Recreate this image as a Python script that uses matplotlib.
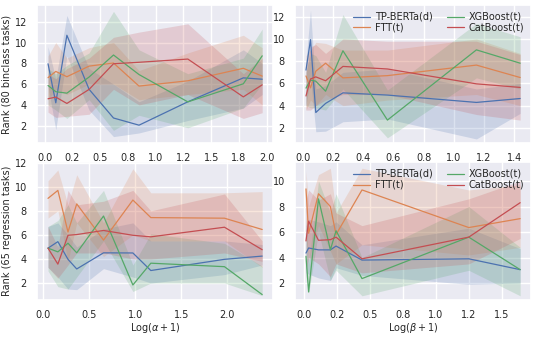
import matplotlib
matplotlib.use("Agg")
import matplotlib.pyplot as plt
import seaborn as sns
from matplotlib.ticker import MultipleLocator, FormatStrFormatter

sns.set_theme(style="darkgrid")
plt.rcParams['font.family'] = ['DejaVu Sans']

models = ["TP-BERTa(d)", "FTT(t)", "XGBoost(t)", "CatBoost(t)"]
colors = sns.color_palette("deep")[:4]

# binclass, alpha
x_bin_a = [0.03, 0.10, 0.20, 0.40, 0.62, 0.85, 1.29, 1.79, 1.96]
bin_a_mean = [
    [7.96, 4.2, 10.7, 5.5, 2.74, 2.05, 4.3, 6.6, 6.47],
    [6.62, 7.22, 6.71, 7.73, 8.03, 5.81, 6.32, 7.52, 6.77],
    [5.87, 5.27, 5.13, 6.68, 8.8, 6.92, 4.29, 6.03, 8.72],
    [4.59, 4.75, 4.14, 5.49, 7.96, 8.1, 8.41, 4.77, 5.93],
]
bin_a_low = [
    [5.8, 1.6, 8.7, 3.5, 0.95, 1.3, 2.5, 3.7, 5.0],
    [4.5, 5.5, 5.0, 6.0, 6.0, 4.5, 5.0, 5.5, 4.0],
    [4.0, 3.5, 2.7, 4.5, 1.55, 3.0, 1.8, 3.7, 6.0],
    [3.3, 2.8, 2.9, 3.1, 5.5, 4.0, 5.0, 2.7, 3.25],
]
bin_a_high = [
    [9.6, 6.5, 12.6, 7.5, 6.0, 4.3, 6.3, 9.3, 8.0],
    [8.7, 10.0, 8.5, 9.5, 10.0, 7.3, 9.0, 10.7, 9.5],
    [7.5, 7.0, 7.8, 9.0, 13.0, 9.3, 7.0, 8.5, 11.3],
    [7.0, 6.5, 7.5, 8.5, 10.5, 11.0, 11.8, 7.0, 8.5],
]

# binclass, beta
x_bin_b = [0.02, 0.05, 0.085, 0.15, 0.265, 0.56, 1.15, 1.44]
bin_b_mean = [
    [7.2, 9.94, 3.38, 4.2, 5.15, 4.95, 4.29, 4.64],
    [6.67, 5.6, 7.1, 7.82, 6.5, 6.7, 7.65, 6.53],
    [5.58, 6.3, 6.2, 5.3, 8.94, 2.7, 9.02, 7.82],
    [4.87, 6.4, 6.59, 6.24, 7.53, 7.3, 5.96, 5.64],
]
bin_b_low = [
    [4.0, 6.5, 1.65, 1.7, 2.55, 2.8, 1.0, 3.3],
    [3.6, 4.5, 4.0, 5.0, 4.0, 4.5, 5.0, 4.0],
    [4.0, 3.8, 3.8, 3.6, 5.5, 1.1, 6.5, 5.5],
    [3.6, 3.6, 4.0, 4.5, 5.0, 5.0, 3.2, 2.7],
]
bin_b_high = [
    [8.0, 12.6, 5.5, 5.8, 7.0, 7.3, 5.5, 6.0],
    [8.5, 9.0, 9.7, 9.6, 9.0, 9.0, 10.0, 8.7],
    [7.0, 8.7, 8.5, 7.0, 12.2, 5.4, 11.4, 10.2],
    [7.0, 9.3, 9.5, 8.7, 10.0, 9.8, 9.8, 8.6],
]

# regression, alpha
x_reg_a = [0.053, 0.16, 0.27, 0.365, 0.656, 0.975, 1.17, 1.97, 2.38]
reg_a_mean = [
    [4.9, 5.44, 3.97, 3.17, 4.51, 4.5, 3.04, 3.97, 4.24],
    [9.04, 9.7, 6.24, 8.58, 5.57, 8.9, 7.44, 7.39, 6.45],
    [4.9, 4.59, 5.31, 4.51, 7.57, 1.84, 3.65, 3.36, 1.04],
    [4.9, 3.57, 5.97, 6.03, 6.37, 5.97, 5.84, 6.64, 4.77],
]
reg_a_low = [
    [3.3, 2.5, 1.5, 1.45, 3.2, 2.5, 2.0, 2.7, 3.5],
    [7.4, 8.0, 3.8, 7.0, 4.2, 6.0, 5.5, 5.5, 3.3],
    [3.0, 1.7, 1.5, 2.5, 5.5, 1.3, 2.0, 2.0, 0.95],
    [3.3, 2.4, 3.5, 4.5, 4.5, 4.0, 4.0, 4.5, 3.8],
]
reg_a_high = [
    [6.7, 7.0, 6.0, 5.0, 6.5, 7.0, 5.5, 5.5, 5.2],
    [10.5, 11.4, 8.5, 11.0, 7.0, 11.5, 9.5, 9.5, 9.6],
    [6.7, 7.2, 8.5, 7.0, 9.7, 3.5, 6.1, 5.3, 3.4],
    [6.7, 5.0, 9.7, 8.5, 8.8, 9.7, 8.0, 9.4, 5.5],
]

# regression, beta
x_reg_b = [0.015, 0.035, 0.11, 0.2, 0.243, 0.44, 1.25, 1.64]
reg_b_mean = [
    [4.35, 4.75, 4.6, 4.6, 4.9, 3.8, 3.9, 3.05],
    [9.38, 5.9, 9.0, 8.0, 5.8, 9.3, 6.35, 7.05],
    [4.1, 1.3, 8.6, 4.6, 6.1, 2.35, 5.6, 3.05],
    [5.3, 6.85, 5.35, 5.4, 5.6, 3.9, 5.6, 8.3],
]
reg_b_low = [
    [2.8, 2.7, 2.4, 2.2, 3.2, 2.6, 1.9, 2.0],
    [5.5, 3.8, 6.5, 4.5, 3.5, 5.0, 4.2, 4.8],
    [2.5, 1.2, 6.0, 2.2, 3.0, 1.0, 3.0, 1.0],
    [3.0, 4.0, 3.5, 2.5, 3.5, 2.8, 3.5, 5.5],
]
reg_b_high = [
    [6.5, 7.0, 6.8, 6.5, 6.8, 5.0, 6.3, 4.7],
    [10.8, 8.0, 10.5, 11.0, 7.5, 11.0, 9.3, 9.7],
    [7.0, 3.5, 10.0, 7.5, 9.0, 4.0, 8.0, 4.8],
    [8.5, 9.3, 8.5, 9.0, 7.5, 6.5, 8.6, 10.0],
]


def draw(ax, x, means, lows, highs):
    for i in range(len(models)):
        ax.fill_between(x, lows[i], highs[i], color=colors[i], alpha=0.2, linewidth=0)
        ax.plot(x, means[i], color=colors[i], lw=0.9, label=models[i])


fig, axes = plt.subplots(2, 2, figsize=(5.33, 3.40), dpi=100)
fig.subplots_adjust(left=0.07, right=0.996, top=0.985, bottom=0.118,
                    wspace=0.095, hspace=0.14)

draw(axes[0, 0], x_bin_a, bin_a_mean, bin_a_low, bin_a_high)
draw(axes[0, 1], x_bin_b, bin_b_mean, bin_b_low, bin_b_high)
draw(axes[1, 0], x_reg_a, reg_a_mean, reg_a_low, reg_a_high)
draw(axes[1, 1], x_reg_b, reg_b_mean, reg_b_low, reg_b_high)

axes[0, 0].xaxis.set_major_locator(MultipleLocator(0.25))
axes[0, 1].xaxis.set_major_locator(MultipleLocator(0.2))
axes[1, 0].xaxis.set_major_locator(MultipleLocator(0.5))
axes[1, 1].xaxis.set_major_locator(MultipleLocator(0.25))
for ax in axes.flat:
    ax.xaxis.set_major_formatter(FormatStrFormatter('%.1f'))
    ax.yaxis.set_major_locator(MultipleLocator(2))
    ax.tick_params(labelsize=7, pad=1.5)

axes[0, 0].set_ylim(0.35, 13.6)
axes[0, 1].set_ylim(0.65, 13.05)
axes[1, 0].set_ylim(0.6, 12.05)
axes[1, 1].set_ylim(0.68, 11.48)

axes[0, 0].set_ylabel("Rank (80 binclass tasks)", fontsize=7, labelpad=2)
axes[1, 0].set_ylabel("Rank (65 regression tasks)", fontsize=7, labelpad=2)
axes[1, 0].set_xlabel(r"Log($\alpha+1$)", fontsize=7, labelpad=0.5)
axes[1, 1].set_xlabel(r"Log($\beta+1$)", fontsize=7, labelpad=0.5)

for ax in [axes[0, 1], axes[1, 1]]:
    ax.legend(loc="upper right", ncol=2, fontsize=7, frameon=False,
              handlelength=1.7, handletextpad=0.5, columnspacing=1.5,
              labelspacing=0.1, borderaxespad=0.3)

fig.savefig("out.png", dpi=100)
